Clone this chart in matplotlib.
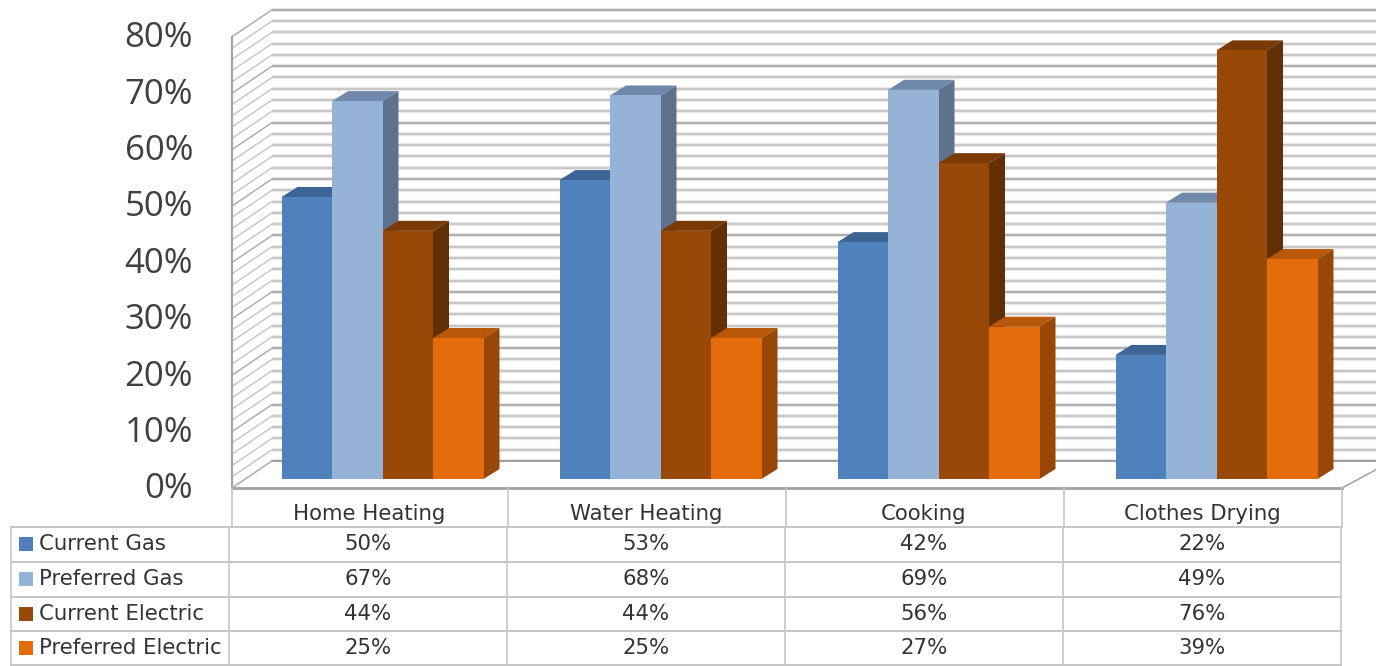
import matplotlib
matplotlib.use("Agg")
import matplotlib.pyplot as plt
from matplotlib.patches import Polygon, Rectangle

categories = ["Home Heating", "Water Heating", "Cooking", "Clothes Drying"]
series_names = ["Current Gas", "Preferred Gas", "Current Electric", "Preferred Electric"]
current_gas = [50, 53, 42, 22]
preferred_gas = [67, 68, 69, 49]
current_electric = [44, 44, 56, 76]
preferred_electric = [25, 25, 27, 39]
y_ticks = [0, 10, 20, 30, 40, 50, 60, 70, 80]

series = [current_gas, preferred_gas, current_electric, preferred_electric]
front_cols = ["#4F81BD", "#95B3D7", "#984807", "#E46C0A"]
top_cols = ["#3C6596", "#7089AA", "#7A3A05", "#B85808"]
side_cols = ["#3A5C88", "#5F728C", "#632F04", "#974806"]

W, H = 1376, 666
fig = plt.figure(figsize=(W / 100, H / 100), dpi=100)
fig.patch.set_facecolor("white")

# main axes: x in category units, y in percent (on the bar front plane)
UX, UY = 278.0, 5.64     # pixels per unit
X0, Y0 = 382.5, 479.0    # pixel of category 0 / 0 %
ax = fig.add_axes([0, 0, 1, 1])
ax.set_xlim(-X0 / UX, (W - X0) / UX)
ax.set_ylim((Y0 - H) / UY, Y0 / UY)
ax.axis("off")
dx = lambda px: px / UX
dy = lambda px: px / UY

# walls & floor
front_x = dx(232 - X0)
back_x = dx(272 - X0)
right_front_x = dx(1342 - X0)
back_right_x = dx(1392 - X0)
front_off = dy(-9)
back_off = dy(18)
for v in range(0, 81, 2):
    major = v % 10 == 0
    ax.plot([back_x, back_right_x], [v + back_off] * 2, color="#e8e8e8", lw=3.0, zorder=0.9,
            solid_capstyle="butt")
    ax.plot([back_x, back_right_x], [v + back_off] * 2, color="#a4a4a4" if major else "#c2c2c2",
            lw=1.2, zorder=1, solid_capstyle="butt")
    ax.plot([front_x, back_x], [v + front_off, v + back_off], color="#a8a8a8" if major else "#c4c4c4",
            lw=1.0, zorder=1)
ax.plot([front_x, front_x], [front_off, 80 + front_off], color="#a6a6a6", lw=1.6, zorder=1.5)
# white floor below the back wall
ax.add_patch(Polygon([(front_x, front_off), (back_x, back_off), (back_right_x, back_off),
                      (right_front_x, front_off)], fc="white", ec="none", zorder=1.2))
ax.plot([back_x, back_right_x], [back_off, back_off], color="#a0a0a0", lw=1.5, zorder=1.3)
ax.plot([front_x, back_x], [front_off, back_off], color="#b0b0b0", lw=1.0, zorder=1.3)
ax.plot([front_x, right_front_x], [front_off, front_off], color="#a0a0a0", lw=2, zorder=1.5)
ax.plot([right_front_x, back_right_x], [front_off, back_off], color="#a8a8a8", lw=1.2, zorder=1.5)

# bars
bw = 50.5 / UX
ddx, ddy = dx(16), dy(10)
z = 3.0
for c in range(len(categories)):
    for s, vals in enumerate(series):
        left = c + (s - 2) * bw
        v = vals[c]
        ax.add_patch(Polygon([(left, v), (left + bw, v), (left + bw + ddx, v + ddy), (left + ddx, v + ddy)],
                             fc=top_cols[s], ec="none", zorder=z))
        ax.add_patch(Polygon([(left + bw, 0), (left + bw + ddx, ddy), (left + bw + ddx, v + ddy), (left + bw, v)],
                             fc=side_cols[s], ec="none", zorder=z + 0.1))
        ax.bar(left, v, width=bw, align="edge", color=front_cols[s], linewidth=0, zorder=z + 0.2)
        z += 1

# y tick labels
for t in y_ticks:
    ax.text(dx(193 - X0), t + front_off - dy(1.5), f"{t}%", ha="right", va="center", fontsize=25,
            family="Open Sans", color="#404040", zorder=50)

# table (pixel overlay)
tb = fig.add_axes([0, 0, 1, 1], zorder=5)
tb.set_xlim(0, W)
tb.set_ylim(H, 0)
tb.axis("off")
tb.patch.set_alpha(0)
GRID = "#c6c6c6"
col_x = [229, 507, 785, 1063, 1341]
head_x = [232, 508, 786, 1064, 1342]
row_y = [527, 561.5, 596.5, 631, 665]
for x in head_x:
    tb.plot([x, x], [488, 527], color=GRID, lw=1.2)
for x in [11] + col_x:
    tb.plot([x, x], [527, 666], color=GRID, lw=1.2)
for y in row_y:
    tb.plot([11, 1341], [y, y], color=GRID, lw=1.4)

FS = 15.3
TC = "#333333"
for i, name in enumerate(categories):
    tb.text((head_x[i] + head_x[i + 1]) / 2 - 1, 513.5, name, ha="center", va="center", fontsize=FS,
            family="DejaVu Sans", color=TC)
for r, name in enumerate(series_names):
    cy = (row_y[r] + row_y[r + 1]) / 2
    tb.add_patch(Rectangle((18.5, cy - 7), 14.5, 14, fc=front_cols[r], ec="none"))
    tb.text(39, cy, name, ha="left", va="center", fontsize=FS, family="DejaVu Sans", color=TC)
    for c in range(len(categories)):
        tb.text((col_x[c] + col_x[c + 1]) / 2, cy, f"{series[r][c]}%", ha="center", va="center",
                fontsize=FS, family="DejaVu Sans", color=TC)

fig.savefig("out.png", dpi=100)
